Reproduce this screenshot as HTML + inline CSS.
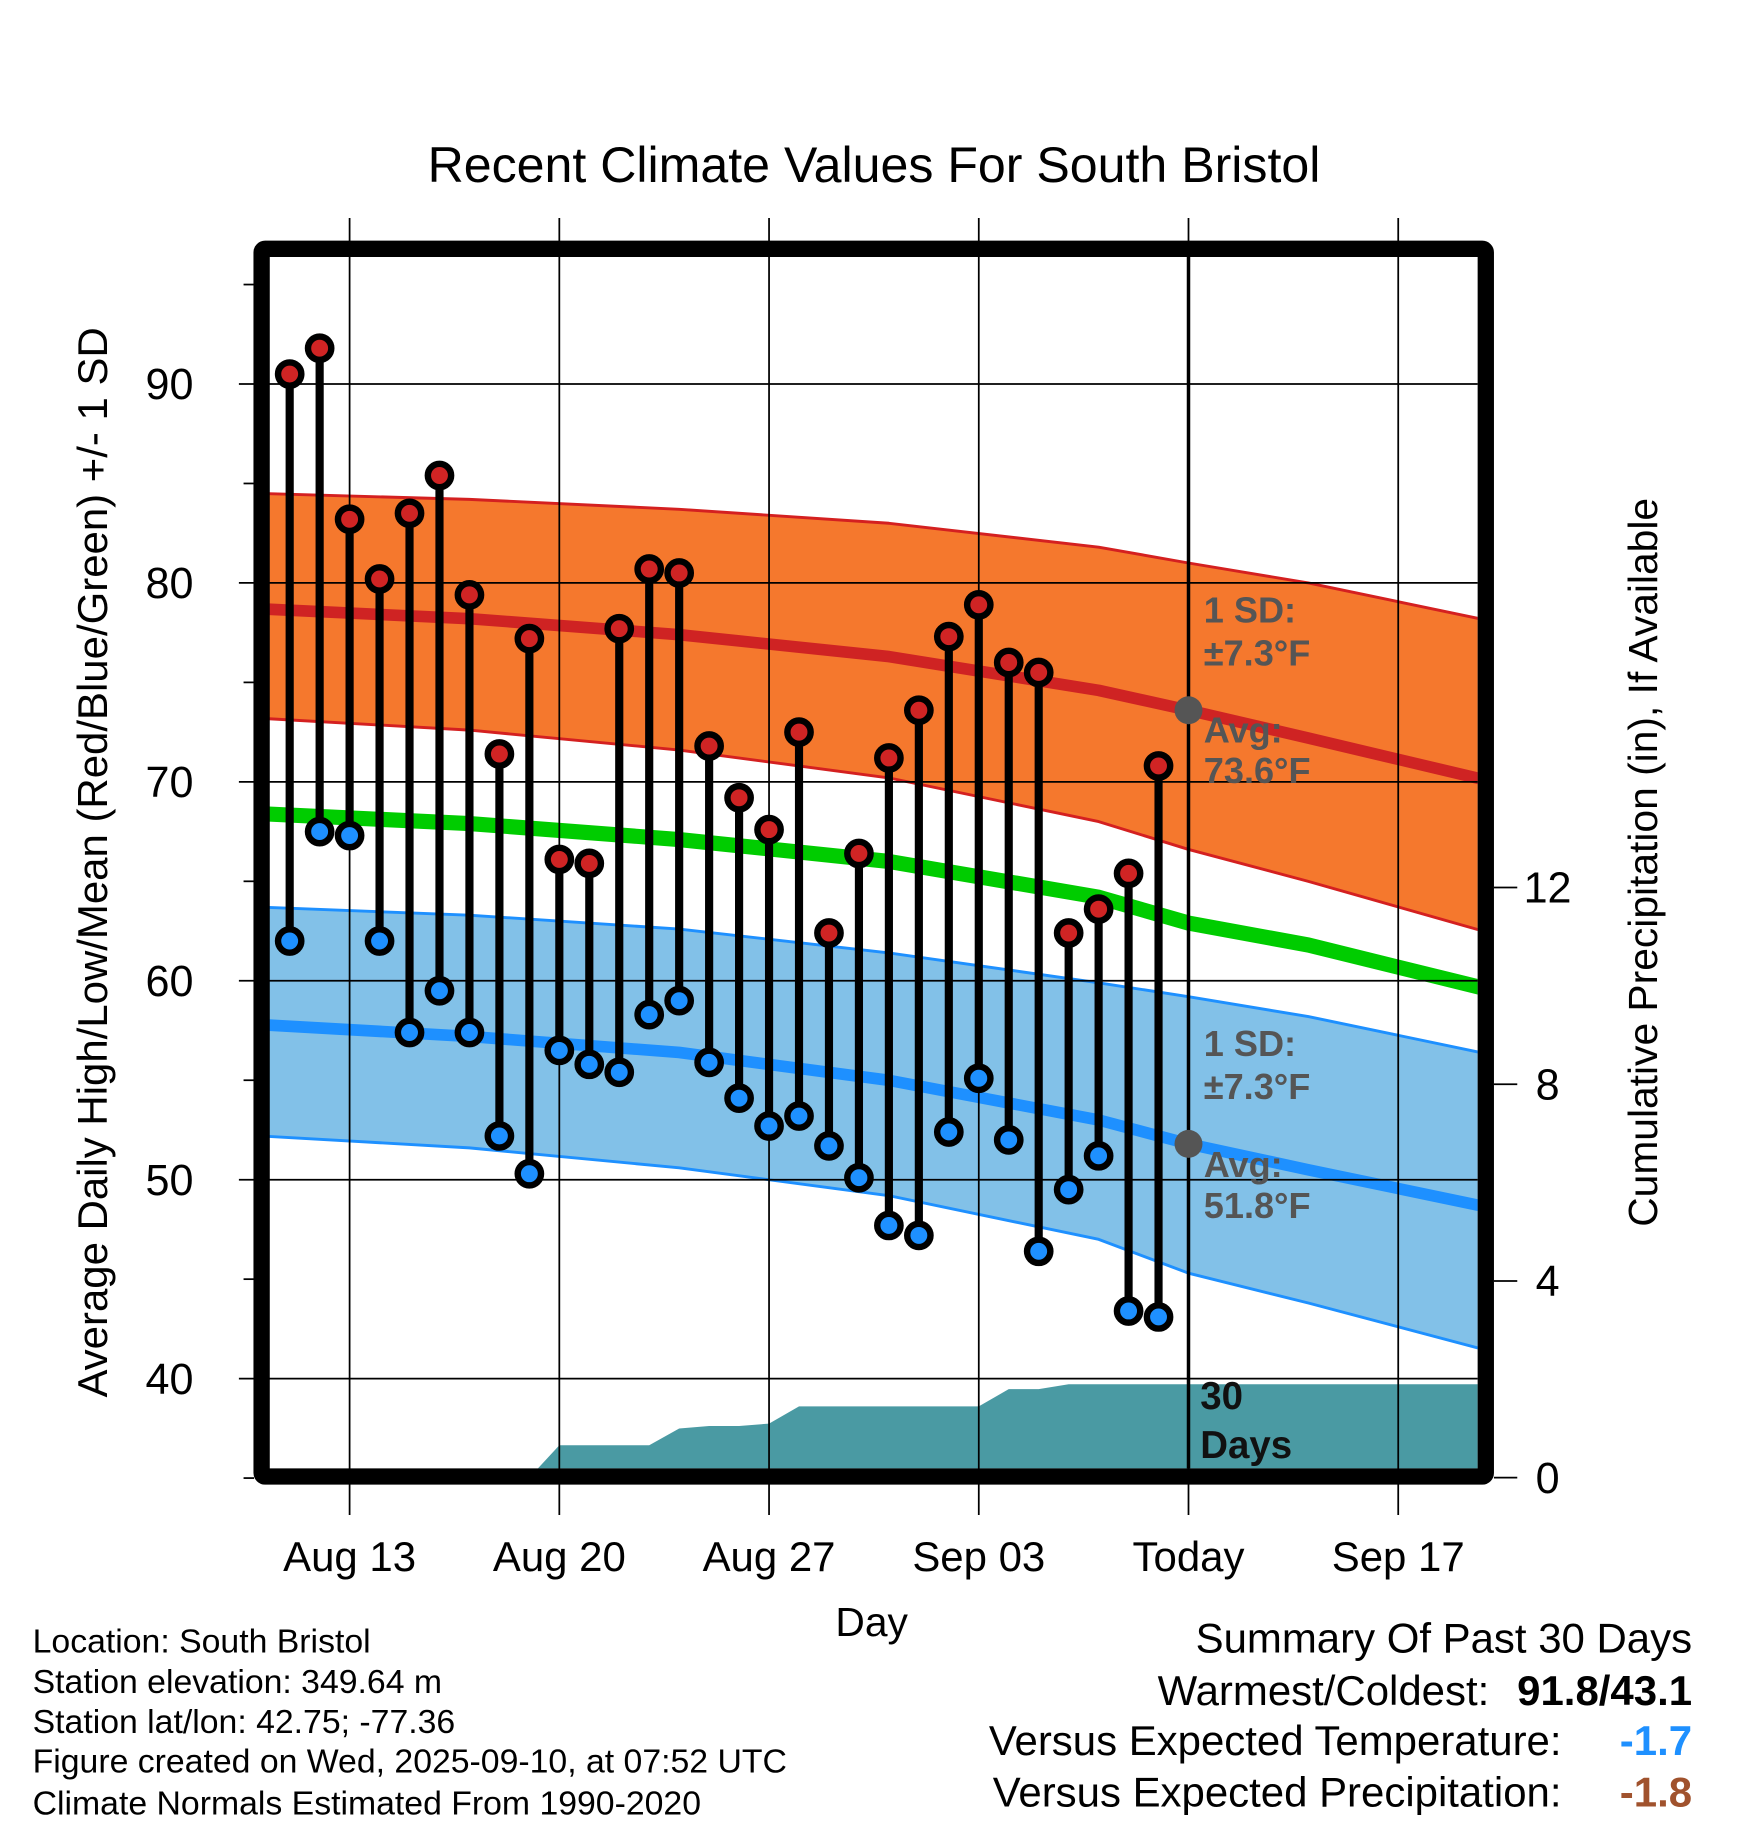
<!DOCTYPE html>
<html><head><meta charset="utf-8"><style>
html,body{margin:0;padding:0;background:#fff}
svg{display:block;font-family:"Liberation Sans",Arial,sans-serif}
</style></head><body>
<svg id="chart" width="1748" height="1828" viewBox="0 0 1500 1568.6" xmlns="http://www.w3.org/2000/svg">
<text x="750" y="156" font-size="43" text-anchor="middle">Recent Climate Values For South Bristol</text>
<g id="layers"></g>
<text transform="translate(92,740) rotate(-90)" font-size="36" text-anchor="middle">Average Daily High/Low/Mean (Red/Blue/Green) +/- 1 SD</text>
<text transform="translate(1422,740) rotate(-90)" font-size="35" text-anchor="middle">Cumulative Precipitation (in), If Available</text>
<text x="748" y="1404" font-size="35" text-anchor="middle">Day</text>
<g font-size="29">
<text x="28" y="1418">Location: South Bristol</text>
<text x="28" y="1453">Station elevation: 349.64 m</text>
<text x="28" y="1487">Station lat/lon: 42.75; -77.36</text>
<text x="28" y="1521">Figure created on Wed, 2025-09-10, at 07:52 UTC</text>
<text x="28" y="1557">Climate Normals Estimated From 1990-2020</text>
</g>
<g font-size="36" text-anchor="end">
<text x="1452" y="1418">Summary Of Past 30 Days</text>
<text x="1278" y="1463">Warmest/Coldest:</text>
<text x="1452" y="1463" font-weight="bold">91.8/43.1</text>
<text x="1340" y="1506">Versus Expected Temperature:</text>
<text x="1452" y="1506" font-weight="bold" fill="#1e90ff">-1.7</text>
<text x="1340" y="1550">Versus Expected Precipitation:</text>
<text x="1452" y="1550" font-weight="bold" fill="#a0522d">-1.8</text>
</g>
</svg>
<script>
// data (day offsets relative to Aug 13)
const obsDays=[-2,-1,0,1,2,3,4,5,6,7,8,9,10,11,12,13,14,15,16,17,18,19,20,21,22,23,24,25,26,27];
const highs=[90.5,91.8,83.2,80.2,83.5,85.4,79.4,71.4,77.2,66.1,65.9,77.7,80.7,80.5,71.8,69.2,67.6,72.5,62.4,66.4,71.2,73.6,77.3,78.9,76.0,75.5,62.4,63.6,65.4,70.8];
const lows=[62.0,67.5,67.3,62.0,57.4,59.5,57.4,52.2,50.3,56.5,55.8,55.4,58.3,59.0,55.9,54.1,52.7,53.2,51.7,50.1,47.7,47.2,52.4,55.1,52.0,46.4,49.5,51.2,43.4,43.1];
const precip=[0,0,0,0,0,0,0,0,0,0.66,0.66,0.66,0.66,1.0,1.05,1.05,1.1,1.45,1.45,1.45,1.45,1.45,1.45,1.45,1.8,1.8,1.9,1.9,1.9,1.9];
const normDays=[-3,4,11,18,25,28,32,39];
const highAvg=[78.7,78.2,77.4,76.3,74.6,73.6,72.2,69.7];
const highUp=[84.5,84.2,83.7,83.0,81.8,81.0,80.0,77.8];
const highLo=[73.2,72.6,71.6,70.2,68.0,66.6,65.0,62.0];
const meanAvg=[68.4,67.9,67.1,66.0,64.2,62.9,61.8,59.2];
const lowAvg=[57.8,57.2,56.4,55.0,53.0,51.8,50.5,48.3];
const lowUp=[63.7,63.3,62.6,61.4,59.9,59.2,58.2,56.0];
const lowLo=[52.2,51.6,50.6,49.2,47.0,45.3,43.8,41.0];
const xTickDays=[0,7,14,21,28,35];
const xTickLabels=["Aug 13","Aug 20","Aug 27","Sep 03","Today","Sep 17"];
const yTicks=[40,50,60,70,80,90];
const y2Ticks=[0,4,8,12];
const todayDay=28;

const L=231,R=1268,T=220,B=1260;
const x=d=>300+d*25.71;
const y=v=>1183-(v-40)*17.07;
const y2=p=>1268-p*42.2;
const NS="http://www.w3.org/2000/svg";
const root=document.getElementById('layers');
function mk(tag,attrs,parent){const e=document.createElementNS(NS,tag);for(const k in attrs)e.setAttribute(k,attrs[k]);(parent||root).appendChild(e);return e;}
const clip=mk('clipPath',{id:'pc'});mk('rect',{x:L,y:T,width:R-L,height:B-T},clip);
const plot=mk('g',{'clip-path':'url(#pc)'});
function pts(days,vals){return days.map((d,i)=>x(d).toFixed(1)+','+y(vals[i]).toFixed(1));}
// precipitation
let pp=[x(-3)+','+y2(0)];obsDays.forEach((d,i)=>pp.push(x(d)+','+y2(precip[i])));
pp.push(x(40)+','+y2(precip[precip.length-1]));pp.push(x(40)+','+y2(0));
const pa=mk('polygon',{points:pp.join(' '),fill:'#4a9aa3'},plot);


// bands
const hb=mk('polygon',{points:pts(normDays,highUp).concat(pts(normDays,highLo).reverse()).join(' '),fill:'#f5782d'},plot);


const lb=mk('polygon',{points:pts(normDays,lowUp).concat(pts(normDays,lowLo).reverse()).join(' '),fill:'#82c1e8'},plot);


[[highUp,'#d42020',2.5,'high-band-upper'],[highLo,'#d42020',2.5,'high-band-lower'],[lowUp,'#1e90ff',2.5,'low-band-upper'],[lowLo,'#1e90ff',2.5,'low-band-lower'],[highAvg,'#cf2323',10,'high-average-line'],[meanAvg,'#00cc00',13,'mean-average-line'],[lowAvg,'#1e90ff',10,'low-average-line']].forEach(a=>{
 const l=mk('polyline',{points:pts(normDays,a[0]).join(' '),fill:'none',stroke:a[1],'stroke-width':a[2],'stroke-linejoin':'round'},plot);
 
 
});
// grid
yTicks.forEach(v=>{const g=mk('line',{x1:205,x2:R,y1:y(v),y2:y(v),stroke:'#000','stroke-width':1.5});
 
 
 const t=mk('text',{x:166,y:y(v)+13,'font-size':37,'text-anchor':'end'});t.textContent=v;
 
 
});
for(let v=35;v<=95;v+=5){if(v%10)mk('line',{x1:209,x2:218,y1:y(v),y2:y(v),stroke:'#000','stroke-width':1.5});}
xTickDays.forEach((d,i)=>{const g=mk('line',{x1:x(d),x2:x(d),y1:187,y2:1300,stroke:'#000','stroke-width':1.5});
 
 
 const t=mk('text',{x:x(d),y:1348,'font-size':36,'text-anchor':'middle'});t.textContent=xTickLabels[i];
 
 
});
y2Ticks.forEach(p=>{mk('line',{x1:1282,x2:1302,y1:y2(p),y2:y2(p),stroke:'#000','stroke-width':1.5});
 const t=mk('text',{x:1328,y:y2(p)+13,'font-size':37,'text-anchor':'middle'});t.textContent=p;
 
 
});
// today line
const tl=mk('line',{x1:x(todayDay),x2:x(todayDay),y1:T,y2:B,stroke:'#000','stroke-width':3});


// stems & markers
obsDays.forEach((d,i)=>{
 const s=mk('line',{x1:x(d),x2:x(d),y1:y(highs[i]),y2:y(lows[i]),stroke:'#000','stroke-width':7});
 
 
 const h=mk('circle',{cx:x(d),cy:y(highs[i]),r:10,fill:'#d02424',stroke:'#000','stroke-width':5.5});
 
 
 const lo=mk('circle',{cx:x(d),cy:y(lows[i]),r:10,fill:'#1e90ff',stroke:'#000','stroke-width':5.5});
 
 
});
// today avg dots
const ti=normDays.indexOf(todayDay);
[highAvg,lowAvg].forEach(a=>{const c=mk('circle',{cx:x(todayDay),cy:y(a[ti]),r:12,fill:'#555'});
 
 });
// annotations
[['1 SD:',534],['±7.3°F',571],['Avg:',637],['73.6°F',672],['1 SD:',906],['±7.3°F',943],['Avg:',1010],['51.8°F',1045]].forEach(a=>{
 const t=mk('text',{x:1033,y:a[1],'font-size':31,'font-weight':'bold',fill:'#555'});t.textContent=a[0];
 
 
});
[['30',1209],['Days',1251]].forEach(a=>{const t=mk('text',{x:1030,y:a[1],'font-size':33,'font-weight':'bold',fill:'#111'});t.textContent=a[0];
 
 });
// frame
const f=mk('rect',{x:224.5,y:213.5,width:1050.5,height:1053.5,fill:'none',stroke:'#000','stroke-width':14,rx:3});


</script>
</body></html>
